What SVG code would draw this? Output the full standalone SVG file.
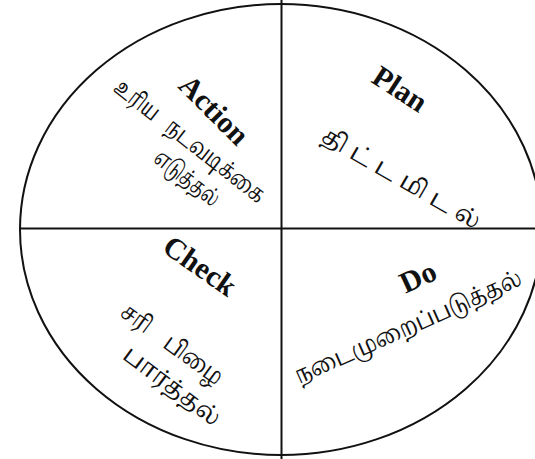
<svg xmlns="http://www.w3.org/2000/svg" width="535" height="459" viewBox="0 0 535 459">
<style>
.en{font-family:"Liberation Serif","Times New Roman",serif;font-weight:bold;font-size:30px;fill:#111;text-anchor:middle}
.ta{font-family:"Noto Serif Tamil","Noto Sans Tamil","Lohit Tamil","Noto Sans",sans-serif;font-size:24px;fill:#111;text-anchor:middle}
.ln{stroke:#111;stroke-width:2;fill:none}
</style>
<rect width="535" height="459" fill="#fff"/>
<g id="connectors">
<ellipse class="ln" cx="281" cy="229.5" rx="261" ry="225.5"/>
<line class="ln" x1="281.5" y1="0" x2="281.5" y2="459"/>
<line class="ln" x1="20" y1="228.5" x2="535" y2="228.5"/>
</g>
<g id="action">
<text class="en" transform="translate(214,110) rotate(45)" y="10">Action</text>
<text class="ta" transform="translate(190,141) rotate(38)" y="8" xml:space="preserve" textLength="185" lengthAdjust="spacingAndGlyphs">உரிய   நடவடிக்கை</text>
<text class="ta" transform="translate(187,178) rotate(38)" y="8" textLength="76" lengthAdjust="spacingAndGlyphs">எடுத்தல்</text>
</g>
<g id="plan">
<text class="en" transform="translate(400,89) rotate(33)" y="10">Plan</text>
<text class="ta" transform="translate(404,180) rotate(30)" y="8" letter-spacing="7">திட்டமிடல்</text>
</g>
<g id="check">
<text class="en" transform="translate(200,266) rotate(35)" y="10">Check</text>
<text class="ta" transform="translate(172,344) rotate(36)" y="8" xml:space="preserve" textLength="120" lengthAdjust="spacingAndGlyphs">சரி    பிழை</text>
<text class="ta" transform="translate(172,386) rotate(37)" y="8" textLength="115" lengthAdjust="spacingAndGlyphs">பார்த்தல்</text>
</g>
<g id="do">
<text class="en" transform="translate(418,277) rotate(-25)" y="10">Do</text>
<text class="ta" transform="translate(408,327) rotate(-24) scale(0.85,1)" y="8">நடைமுறைப்படுத்தல்</text>
</g>
</svg>
